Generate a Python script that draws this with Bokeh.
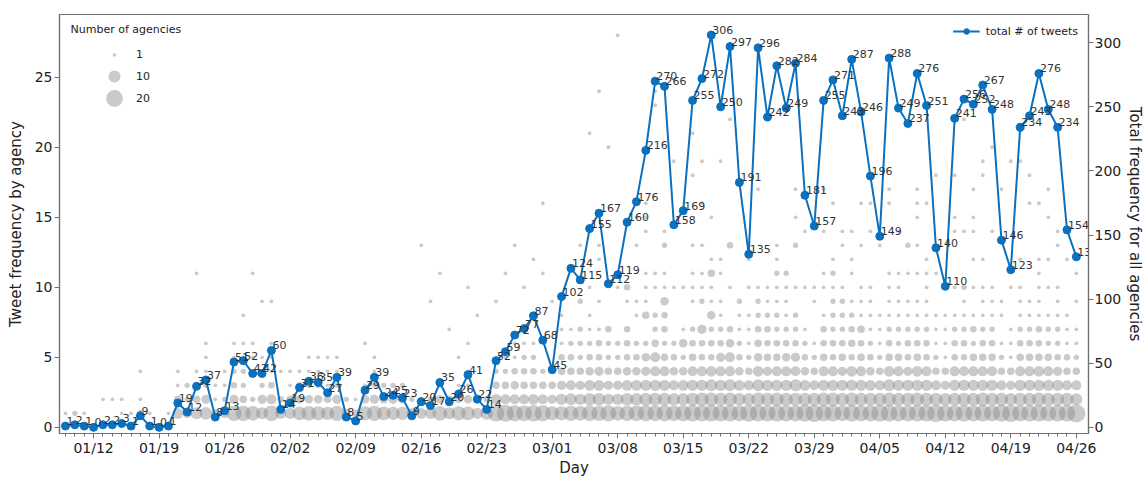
import math
import pandas as pd
from bokeh.plotting import figure
from bokeh.models import (Range1d, LinearAxis, FixedTicker, DatetimeTickFormatter,
                          ColumnDataSource, Legend, LegendItem, Label)
from bokeh.core.properties import value
from bokeh.embed import file_html
from bokeh.resources import INLINE

# ---------------- data ----------------
first_day = "2020-01-09"
last_day = "2020-04-26"
days = list(pd.date_range(first_day, last_day, freq="D"))

total_tweets = [1, 2, 1, 0, 2, 2, 3, 1, 9, 1, 0, 1,
                19, 12, 32, 37, 8, 13, 51, 52, 42, 42, 60,
                14, 19, 31, 36, 35, 27, 39,
                8, 5, 29, 39, 24, 25, 23,
                9, 20, 17, 35, 20, 26, 41, 22, 14,
                52, 59, 72, 77, 87, 68, 45,
                102, 124, 115, 155, 167, 112, 119,
                160, 176, 216, 270, 266, 158, 169,
                255, 272, 306, 250, 297, 191, 135,
                296, 242, 282, 249, 284, 181, 157,
                255, 271, 243, 287, 246, 196, 149,
                288, 249, 237, 276, 251, 140, 110,
                241, 256, 252, 267, 248, 146, 123,
                234, 243, 276, 248, 234, 154, 133]

# per day: "tweets_per_agency:number_of_agencies"
agency_counts = [
    "1:1", "1:2", "1:1", "", "2:1", "2:1", "1:1 2:1", "1:1", "1:3 2:1 4:1", "1:1", "", "1:1",
    "1:8 2:4 3:1 4:1", "1:6 2:2 3:2", "1:10 2:4 3:1 4:1 11:1", "1:11 2:6 3:2 4:1 5:1 6:1",
    "1:5 2:1 3:1", "1:6 2:2 3:1 4:1", "1:16 2:6 3:3 4:2 5:1 6:1", "1:16 2:4 3:2 4:2 5:1 6:1 8:1",
    "1:15 2:2 4:1 5:1 6:1 11:1", "1:10 2:6 3:2 4:1 5:1 9:1", "1:17 2:7 3:3 4:1 5:1 6:1 9:1",
    "1:8 2:3 4:1", "1:9 2:4 3:1 4:1", "1:13 2:5 3:3 4:1", "1:15 2:5 3:2 4:1 5:1",
    "1:14 2:5 3:2 4:1 5:1", "1:12 2:4 3:1 4:1 5:1", "1:16 2:6 3:2 4:1 5:1",
    "1:6 2:2", "1:4 2:1", "1:14 2:5 3:1 6:1", "1:16 2:6 3:2 4:1 5:1", "1:13 2:5 3:2",
    "1:12 2:6 3:2", "1:12 2:5 3:2",
    "1:7 2:2", "1:8 2:2 13:1", "1:9 2:2 9:1", "1:15 2:5 3:1 11:1", "1:10 2:4 7:1",
    "1:14 2:4 3:1 5:1", "1:13 2:5 3:1 4:1 6:1 10:1", "1:9 2:4 8:1", "1:11 2:3",
    "1:19 2:8 3:4 4:2 9:1", "1:20 2:7 3:4 4:2 5:1 11:1", "1:18 2:7 3:5 4:3 5:1 6:1 13:1",
    "1:17 2:7 3:4 4:3 5:2 6:1 7:1 10:1", "1:19 2:8 3:4 4:3 5:2 6:1 8:1 12:1",
    "1:18 2:7 3:4 4:2 11:1 16:1", "1:14 2:6 3:4 4:2 9:1",
    "1:14 2:9 3:6 4:4 5:3 6:1 7:1 8:1", "1:16 2:10 3:7 4:4 5:3 6:2 7:1",
    "1:15 2:9 3:6 4:4 5:2 6:2 7:2 9:2 13:1", "1:17 2:11 3:8 4:5 5:3 6:2 7:1 8:1 10:1 21:1",
    "1:16 2:11 3:8 4:6 5:3 6:3 7:1 9:1 12:1 13:1 24:1", "1:18 2:9 3:6 4:4 5:2 6:2 7:3 20:1",
    "1:15 2:9 3:6 4:4 5:2 6:2 10:1 28:1",
    "1:16 2:11 3:8 4:5 5:3 6:3 7:3 9:1 10:3", "1:17 2:11 3:8 4:5 5:3 6:2 8:1 9:1 13:1 15:1",
    "1:18 2:12 3:9 4:6 5:5 6:2 8:4 9:1 10:1 11:1 14:1 15:1 16:1",
    "1:17 2:12 3:9 4:7 5:7 6:4 7:2 8:2 10:1 11:1 23:1 24:1",
    "1:18 2:12 3:9 4:7 5:4 6:2 7:3 8:3 9:5 10:1 11:1 13:2 14:1",
    "1:17 2:11 3:7 4:5 5:3 6:2 10:1 19:1", "1:18 2:11 3:8 4:5 5:2 6:5 7:1 10:1",
    "1:19 2:12 3:9 4:7 5:4 6:3 7:2 9:1 10:1 11:1 13:1 18:1 21:1",
    "1:18 2:13 3:9 4:7 5:3 6:3 7:6 9:2 10:1 11:1 13:1 16:1 19:1",
    "1:19 2:13 3:10 4:8 5:3 6:3 7:2 8:5 9:1 10:1 11:4 12:1 15:1",
    "1:18 2:12 3:9 4:7 5:6 6:3 7:2 8:1 9:1 11:1 12:1 19:1",
    "1:19 2:13 3:10 4:7 5:7 6:5 7:3 10:1 13:3 22:1", "1:17 2:11 3:8 4:5 5:3 6:2 7:1 8:1 9:2",
    "1:20 2:11 3:7 4:4 5:2 6:1 7:1 8:1 10:1 12:1",
    "1:19 2:13 3:10 4:8 5:5 6:4 7:3 8:2 9:2 10:1 17:1",
    "1:18 2:12 3:9 4:6 5:4 6:3 7:3 8:2 9:1 10:1",
    "1:19 2:13 3:9 4:7 5:4 6:3 7:2 8:2 9:1 10:1 11:2 12:1 13:1",
    "1:18 2:12 3:9 4:7 5:5 6:3 7:2 8:1 9:1 10:1 11:2",
    "1:18 2:12 3:10 4:7 5:6 6:3 7:2 8:2 10:1 13:2 15:1 17:1",
    "1:20 2:12 3:8 4:5 5:3 6:2 7:1 10:1 14:1", "1:21 2:12 3:7 4:4 5:2 6:1 9:1 10:1",
    "1:18 2:13 3:9 4:7 5:4 6:3 7:3 8:1 10:1 11:1 14:1 17:1",
    "1:19 2:13 3:9 4:7 5:3 6:3 7:2 8:2 9:2 10:1 11:2 12:1 16:1",
    "1:17 2:12 3:9 4:6 5:4 6:3 7:2 8:2 9:2 10:1 13:1 14:1",
    "1:19 2:13 3:9 4:8 5:3 6:4 7:3 8:2 9:1 11:1 12:1 14:1",
    "1:18 2:12 3:9 4:7 5:4 6:3 7:4 8:1 9:1 10:1 13:1 16:1",
    "1:18 2:12 3:8 4:5 5:3 6:2 7:1 8:1 9:1 10:1 14:1 16:1",
    "1:20 2:12 3:7 4:4 5:2 6:1 7:1 8:1 13:1",
    "1:19 2:13 3:10 4:8 5:4 6:3 7:2 8:1 9:1 10:1 11:1 16:1 17:1",
    "1:18 2:12 3:9 4:7 5:4 6:2 7:2 8:1 9:1 10:1 11:1 14:1",
    "1:18 2:12 3:9 4:6 5:3 6:3 7:2 8:1 9:1 11:1 13:2",
    "1:19 2:13 3:9 4:8 5:4 6:3 7:2 8:1 9:1 11:1 13:1 15:1 16:1 17:1",
    "1:19 2:12 3:9 4:7 5:3 6:3 7:2 8:1 9:1 10:1 11:1 12:1 16:1",
    "1:21 2:12 3:7 4:4 5:2 6:1 7:1 8:1 11:1 18:1", "1:19 2:11 3:6 4:4 5:1 6:1 7:1 8:1",
    "1:18 2:12 3:9 4:7 5:3 6:3 7:2 8:1 10:1 14:1 15:1 18:1",
    "1:19 2:12 3:9 4:7 5:3 6:3 7:2 8:1 9:1 10:2 14:1 22:1",
    "1:18 2:12 3:9 4:7 5:4 6:2 7:3 8:1 10:1 12:1 14:1 15:1 17:1",
    "1:19 2:13 3:9 4:7 5:4 6:3 7:2 8:1 9:1 10:1 12:1 18:1 19:1",
    "1:18 2:12 3:9 4:7 5:4 6:3 7:2 8:1 9:1 10:1 14:1 20:1",
    "1:20 2:12 3:7 4:4 5:2 6:1 8:1 9:1 17:1", "1:21 2:11 3:6 4:4 5:1 6:1 7:1 10:1 19:1",
    "1:18 2:12 3:9 4:7 5:4 6:3 7:2 8:1 9:1 10:1 12:1 19:1",
    "1:19 2:12 3:9 4:7 5:4 6:3 7:2 8:1 9:1 16:1 18:1",
    "1:19 2:13 3:9 4:8 5:4 6:3 7:3 8:1 9:1 10:1 11:1 12:1 16:1",
    "1:18 2:12 3:9 4:7 5:4 6:2 7:2 8:1 10:1 12:1 15:1 17:1",
    "1:19 2:12 3:9 4:6 5:3 6:2 7:2 8:1 9:1 10:1 13:1 14:1",
    "1:19 2:12 3:7 4:4 5:3 6:1 7:1 8:1 12:1 14:1",
    "1:23 2:10 3:7 4:4 5:2 6:1 7:1 9:1 11:1",
]

legend_agencies = [1, 10, 20]
left_ticks = [0, 5, 10, 15, 20, 25]
right_ticks = [0, 50, 100, 150, 200, 250, 300]
week_ticks = list(pd.date_range("2020-01-12", "2020-04-26", freq="7D"))

# ---------------- style ----------------
BLUE = "#0a70c0"
BUBBLE = "#8a8a8a"
FONT = "DejaVu Sans"
SPINE = "#707070"
FRAME_W, FRAME_H = 1029, 419


def bubble_size(n):
    return 3.8 * math.sqrt(n)


bx, by, bn = [], [], []
for day, row in zip(days, agency_counts):
    for pair in row.split():
        k, n = pair.split(":")
        bx.append(day)
        by.append(int(k))
        bn.append(int(n))
bsrc = ColumnDataSource(dict(x=bx, y=by, n=bn, size=[bubble_size(v) for v in bn]))
lsrc = ColumnDataSource(dict(x=days, y=total_tweets, label=[str(v) for v in total_tweets]))

x_start = days[0] - pd.Timedelta(hours=15.4)
x_end = days[0] + pd.Timedelta(days=109.3)

p = figure(x_axis_type="datetime", x_range=Range1d(x_start, x_end),
           y_range=Range1d(-0.44, 29.48),
           frame_width=FRAME_W, frame_height=FRAME_H,
           output_backend="svg", toolbar_location=None,
           min_border_top=14, min_border_left=59, min_border_right=56, min_border_bottom=5,
           background_fill_color="white", border_fill_color="white")
p.extra_y_ranges = {"total": Range1d(-4.8, 322)}
p.xgrid.visible = False
p.ygrid.visible = False
p.outline_line_color = SPINE
p.outline_line_width = 1.2

to_ms = lambda t: int(pd.Timestamp(t).value // 10**6)
p.xaxis.ticker = FixedTicker(ticks=[to_ms(t) for t in week_ticks],
                             minor_ticks=[to_ms(t) for t in days])
fmt = "%m/%d"
p.xaxis.formatter = DatetimeTickFormatter(microseconds=fmt, milliseconds=fmt, seconds=fmt,
                                          minsec=fmt, minutes=fmt, hourmin=fmt, hours=fmt,
                                          days=fmt, months=fmt, years=fmt)
p.xaxis.axis_label = "Day"
p.yaxis.ticker = FixedTicker(ticks=left_ticks)
p.yaxis.axis_label = "Tweet frequency by agency"

right_axis = LinearAxis(y_range_name="total", ticker=FixedTicker(ticks=right_ticks),
                        axis_label="Total frequency for all agencies")
p.add_layout(right_axis, "right")

for ax in [p.xaxis[0], p.yaxis[0], right_axis]:
    ax.axis_line_color = SPINE
    ax.axis_line_width = 1.2
    ax.major_tick_line_color = SPINE
    ax.minor_tick_line_color = SPINE
    ax.major_tick_out = 5
    ax.major_tick_in = 0
    ax.minor_tick_out = 3
    ax.minor_tick_in = 0
    ax.major_label_text_font = FONT
    ax.major_label_text_font_size = "14px"
    ax.major_label_text_color = "#222222"
    ax.major_label_standoff = 2
    ax.axis_label_text_font = FONT
    ax.axis_label_text_font_size = "15px"
    ax.axis_label_text_font_style = "normal"
    ax.axis_label_text_color = "#222222"
    ax.axis_label_standoff = 2
p.xaxis[0].axis_label_standoff = 0
p.xaxis[0].major_label_standoff = 1
p.yaxis[0].axis_label_standoff = 7
right_axis.major_label_standoff = 1
p.yaxis[0].minor_tick_line_color = None
right_axis.minor_tick_line_color = None

# bubbles
bub_r = p.scatter("x", "y", source=bsrc, size="size", fill_color=BUBBLE, fill_alpha=0.45,
                  line_color=None)

# total line
line_r = p.line("x", "y", source=lsrc, y_range_name="total", line_color=BLUE, line_width=2)
mark_r = p.scatter("x", "y", source=lsrc, y_range_name="total", size=8,
                   fill_color=BLUE, line_color=BLUE)
p.text("x", "y", text="label", source=lsrc, y_range_name="total",
       x_offset=1, y_offset=-5, text_font=value(FONT), text_font_size="11px",
       text_color="#333333", text_align="left", text_baseline="alphabetic")

line_legend = Legend(items=[LegendItem(label="total # of tweets", renderers=[line_r, mark_r])],
                     location="top_right", margin=10, padding=6, glyph_width=27,
                     glyph_height=14, label_height=14, label_standoff=6,
                     border_line_color=None, background_fill_alpha=0,
                     label_text_font=FONT, label_text_font_size="11px",
                     label_text_color="#222222")
p.add_layout(line_legend)

# bubble-size legend (three legends, one per size)
centers_from_top = [37.3, 57.3, 79.3]
pad = 5
for n, c in zip(legend_agencies, centers_from_top):
    s = bubble_size(n)
    gh = int(round(s / 0.4))
    top = c - pad - gh / 2
    boxh = 2 * pad + gh
    lg = Legend(items=[LegendItem(label=str(n), renderers=[bub_r])],
                location=(33, int(round(FRAME_H - top - boxh))), padding=pad, margin=0,
                glyph_width=44, glyph_height=gh, label_height=gh, label_standoff=0,
                border_line_color=None, background_fill_alpha=0,
                label_text_font=FONT, label_text_font_size="11px",
                label_text_color="#222222")
    p.add_layout(lg)

p.add_layout(Label(x=11, y=FRAME_H - 15.3, x_units="screen", y_units="screen",
                   text="Number of agencies", text_font=FONT,
                   text_font_size="11px", text_color="#222222", text_baseline="middle"))

open("out.html", "w").write(file_html(p, INLINE))
